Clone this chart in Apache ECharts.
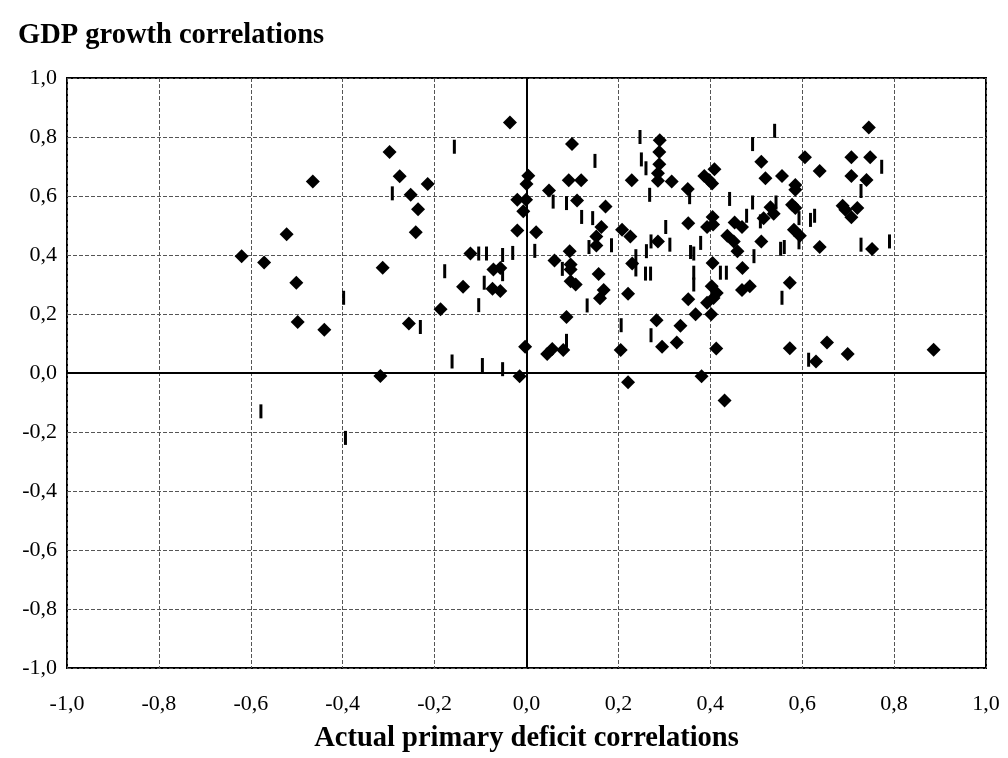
<!DOCTYPE html>
<html>
<head>
<meta charset="utf-8">
<script src="https://cdn.jsdelivr.net/npm/echarts@6/dist/echarts.min.js"></script>
<style>
  html, body { margin: 0; padding: 0; background: #fff; }
  #chart { width: 1008px; height: 758px; }
</style>
</head>
<body>
<div id="chart"></div>
<script>
// Correlation pairs, first group (diamond markers)
const diamondX = [
  -0.620, -0.571, -0.522, -0.501, -0.498, -0.440, -0.465, -0.298, -0.276, -0.313,
  -0.318, -0.036, -0.215, -0.252, -0.236, -0.241, 0.004, 0.000, -0.020, -0.001,
  -0.007, 0.049, -0.020, 0.021, -0.122, 0.061, -0.072, -0.057, -0.138, -0.074,
  -0.057, -0.187, -0.256, -0.003, 0.045, 0.056, -0.015, 0.099, 0.290, 0.289,
  0.289, 0.286, 0.286, 0.316, 0.229, 0.092, 0.119, 0.351, 0.387, 0.409,
  0.397, 0.404, 0.110, 0.172, 0.163, 0.152, 0.152, 0.208, 0.226, 0.286,
  0.352, 0.405, 0.393, 0.406, 0.094, 0.096, 0.096, 0.157, 0.230, 0.405,
  0.096, 0.107, 0.168, 0.160, 0.221, 0.352, 0.368, 0.393, 0.407, 0.414,
  0.402, 0.403, 0.087, 0.080, 0.205, 0.283, 0.295, 0.327, 0.335, 0.221,
  0.381, 0.413, 0.745, 0.511, 0.606, 0.638, 0.707, 0.748, 0.707, 0.740,
  0.520, 0.556, 0.585, 0.585, 0.531, 0.538, 0.516, 0.453, 0.469, 0.437,
  0.451, 0.459, 0.511, 0.578, 0.585, 0.582, 0.595, 0.638, 0.688, 0.720,
  0.707, 0.694, 0.752, 0.470, 0.469, 0.486, 0.573, 0.573, 0.654, 0.699,
  0.630, 0.886, 0.431
];
const diamondY = [
  0.396, 0.375, 0.470, 0.306, 0.173, 0.147, 0.649, 0.749, 0.667, 0.357,
  -0.010, 0.849, 0.641, 0.604, 0.555, 0.477, 0.669, 0.641, 0.587, 0.587,
  0.548, 0.619, 0.483, 0.477, 0.405, 0.381, 0.351, 0.356, 0.292, 0.286,
  0.278, 0.216, 0.168, 0.089, 0.064, 0.081, -0.011, 0.776, 0.789, 0.749,
  0.708, 0.677, 0.652, 0.649, 0.653, 0.653, 0.653, 0.624, 0.668, 0.691,
  0.654, 0.642, 0.585, 0.564, 0.495, 0.463, 0.432, 0.486, 0.463, 0.446,
  0.508, 0.529, 0.495, 0.503, 0.413, 0.368, 0.351, 0.336, 0.371, 0.373,
  0.311, 0.300, 0.281, 0.253, 0.269, 0.250, 0.199, 0.238, 0.254, 0.271,
  0.199, 0.294, 0.190, 0.078, 0.078, 0.179, 0.089, 0.103, 0.160, -0.031,
  -0.011, 0.083, 0.832, 0.716, 0.731, 0.685, 0.731, 0.731, 0.668, 0.654,
  0.660, 0.668, 0.637, 0.621, 0.562, 0.540, 0.525, 0.510, 0.495, 0.465,
  0.446, 0.413, 0.446, 0.570, 0.559, 0.486, 0.465, 0.427, 0.567, 0.559,
  0.528, 0.553, 0.420, 0.356, 0.281, 0.294, 0.306, 0.084, 0.103, 0.064,
  0.039, 0.079, -0.093
];

// Correlation pairs, second group (dash markers)
const dashX = [
  -0.292, -0.398, -0.578, -0.394, -0.157, 0.058, -0.104, -0.087, -0.052, -0.030,
  0.018, -0.178, -0.052, -0.092, -0.104, -0.231, -0.162, -0.096, -0.052, 0.149,
  0.247, 0.250, 0.260, 0.355, 0.268, 0.087, 0.120, 0.144, 0.136, 0.185,
  0.271, 0.303, 0.312, 0.379, 0.261, 0.357, 0.364, 0.078, 0.238, 0.238,
  0.259, 0.270, 0.364, 0.364, 0.132, 0.087, 0.206, 0.271, 0.540, 0.492,
  0.773, 0.728, 0.442, 0.492, 0.543, 0.509, 0.479, 0.495, 0.593, 0.618,
  0.627, 0.593, 0.553, 0.561, 0.728, 0.790, 0.422, 0.435, 0.556, 0.614
];
const dashY = [
  0.609, 0.255, -0.130, -0.220, 0.767, 0.581, 0.405, 0.405, 0.400, 0.407,
  0.414, 0.345, 0.335, 0.306, 0.230, 0.156, 0.039, 0.027, 0.013, 0.719,
  0.800, 0.724, 0.694, 0.596, 0.604, 0.576, 0.529, 0.525, 0.427, 0.433,
  0.446, 0.495, 0.435, 0.441, 0.413, 0.410, 0.405, 0.353, 0.396, 0.351,
  0.337, 0.337, 0.340, 0.300, 0.229, 0.109, 0.162, 0.128, 0.821, 0.776,
  0.699, 0.617, 0.590, 0.578, 0.578, 0.514, 0.533, 0.396, 0.525, 0.519,
  0.533, 0.443, 0.421, 0.427, 0.435, 0.446, 0.340, 0.340, 0.255, 0.045
];

const chartTitle = 'GDP growth correlations';
const xAxisTitle = 'Actual primary deficit correlations';

const FONT = "'Liberation Serif', 'Times New Roman', serif";
const zip = (xs, ys) => xs.map((x, i) => [x, ys[i]]);
const fmt = v => v.toFixed(1).replace('.', ',');

const chart = echarts.init(document.getElementById('chart'), null, { renderer: 'canvas' });

chart.setOption({
  animation: false,
  backgroundColor: '#fff',
  title: {
    text: chartTitle,
    left: 13,
    top: 16,
    textStyle: { fontFamily: FONT, fontWeight: 'bold', fontSize: 28.5, color: '#000' }
  },
  grid: {
    left: 67, right: 22, top: 78, bottom: 87,
    show: true, borderColor: '#000', borderWidth: 2, backgroundColor: 'transparent'
  },
  xAxis: {
    type: 'value', min: -1, max: 1, interval: 0.2,
    name: xAxisTitle,
    nameLocation: 'middle',
    nameGap: 56,
    nameTextStyle: { fontFamily: FONT, fontWeight: 'bold', fontSize: 28.5, color: '#000' },
    axisLine: { show: false, onZero: false },
    axisTick: { show: false },
    axisLabel: { fontFamily: FONT, fontSize: 22, color: '#000', margin: 25, formatter: fmt },
    splitLine: { show: true, lineStyle: { color: '#555', width: 1, type: [4, 2] } }
  },
  yAxis: {
    type: 'value', min: -1, max: 1, interval: 0.2,
    axisLine: { show: false, onZero: false },
    axisTick: { show: false },
    axisLabel: { fontFamily: FONT, fontSize: 22, color: '#000', margin: 10, formatter: fmt },
    splitLine: { show: true, lineStyle: { color: '#555', width: 1, type: [4, 2] } }
  },
  series: [
    {
      name: 'dash',
      type: 'scatter',
      symbol: 'rect',
      symbolSize: [3, 14],
      itemStyle: { color: '#000', opacity: 1 },
      data: zip(dashX, dashY),
      markLine: {
        silent: true,
        symbol: ['none', 'none'],
        label: { show: false },
        lineStyle: { color: '#000', width: 2, type: 'solid' },
        data: [{ xAxis: 0 }, { yAxis: 0 }]
      },
      z: 3
    },
    {
      name: 'diamond',
      type: 'scatter',
      symbol: 'diamond',
      symbolSize: 14,
      itemStyle: { color: '#000', opacity: 1 },
      data: zip(diamondX, diamondY),
      z: 4
    }
  ]
});
</script>
</body>
</html>
